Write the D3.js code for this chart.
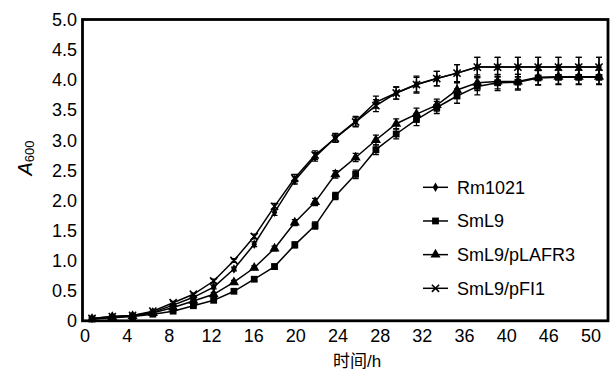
<!DOCTYPE html>
<html>
<head>
<meta charset="utf-8">
<script src="https://cdn.jsdelivr.net/npm/d3@7"></script>
<style>
  body { margin: 0; background: #fff; }
  text { font-family: "Liberation Sans", Arial, "Noto Sans CJK SC", sans-serif; fill: #000; }
</style>
</head>
<body>
<script>
// sampling times (h)
var times = [0, 2, 4, 6, 8, 10, 12, 14, 16, 18, 20, 22, 24, 26, 28, 30, 32, 34, 36, 38, 40, 42, 44, 46, 48, 50];

// A600 values
var rm1021 = [0.04, 0.07, 0.09, 0.14, 0.26, 0.39, 0.56, 0.86, 1.27, 1.80, 2.33, 2.72, 3.04, 3.31, 3.63, 3.78, 3.92, 4.02, 4.11, 4.21, 4.21, 4.21, 4.21, 4.21, 4.21, 4.21];
var sml9 = [0.03, 0.05, 0.07, 0.11, 0.16, 0.25, 0.34, 0.49, 0.69, 0.90, 1.26, 1.58, 2.07, 2.43, 2.84, 3.10, 3.34, 3.54, 3.73, 3.89, 3.95, 3.96, 4.03, 4.04, 4.04, 4.04];
var pLAFR3 = [0.03, 0.06, 0.08, 0.13, 0.22, 0.33, 0.44, 0.64, 0.88, 1.20, 1.63, 1.97, 2.43, 2.71, 3.00, 3.27, 3.43, 3.58, 3.83, 3.95, 3.97, 3.97, 4.04, 4.05, 4.05, 4.05];
var pFI1 = [0.04, 0.07, 0.09, 0.16, 0.30, 0.44, 0.66, 1.00, 1.40, 1.90, 2.37, 2.75, 3.03, 3.30, 3.57, 3.78, 3.92, 4.02, 4.11, 4.21, 4.21, 4.21, 4.21, 4.21, 4.21, 4.21];

// error bar half lengths
var rm1021Err = [0.01, 0.01, 0.01, 0.02, 0.02, 0.02, 0.03, 0.03, 0.04, 0.05, 0.06, 0.07, 0.07, 0.08, 0.10, 0.10, 0.12, 0.12, 0.14, 0.16, 0.16, 0.16, 0.16, 0.16, 0.16, 0.16];
var sml9Err = [0.01, 0.01, 0.01, 0.01, 0.02, 0.02, 0.02, 0.03, 0.03, 0.04, 0.05, 0.06, 0.06, 0.07, 0.08, 0.08, 0.10, 0.10, 0.12, 0.14, 0.13, 0.13, 0.12, 0.12, 0.12, 0.12];
var pLAFR3Err = [0.01, 0.01, 0.01, 0.01, 0.02, 0.02, 0.03, 0.03, 0.03, 0.04, 0.05, 0.06, 0.06, 0.07, 0.08, 0.08, 0.10, 0.10, 0.12, 0.13, 0.12, 0.12, 0.12, 0.12, 0.12, 0.12];
var pFI1Err = [0.01, 0.01, 0.01, 0.02, 0.02, 0.02, 0.03, 0.03, 0.04, 0.05, 0.06, 0.07, 0.07, 0.08, 0.10, 0.10, 0.14, 0.12, 0.14, 0.16, 0.16, 0.16, 0.16, 0.16, 0.16, 0.16];

var seriesNames = ["Rm1021", "SmL9", "SmL9/pLAFR3", "SmL9/pFI1"];
var seriesValues = [rm1021, sml9, pLAFR3, pFI1];
var seriesErrors = [rm1021Err, sml9Err, pLAFR3Err, pFI1Err];
var seriesMarks = ["diamond", "square", "triangle", "cross"];

// axis labels
var xTickLabels = ["0", "4", "8", "12", "16", "20", "24", "28", "32", "36", "40", "46", "50"];
var yTicks = [0, 0.5, 1.0, 1.5, 2.0, 2.5, 3.0, 3.5, 4.0, 4.5, 5.0];

var width = 612, height = 372;
var svg = d3.select("body").append("svg")
    .attr("width", width)
    .attr("height", height);

/* scales */
var x = d3.scaleLinear().domain([0, 50]).range([92, 599]);
var xLab = d3.scalePoint().domain(xTickLabels).range([85, 591]);
var y = d3.scaleLinear().domain([0, 5]).range([320.8, 19.5]);

/* frame */
svg.append("rect")
    .attr("x", 82.5)
    .attr("y", 19.5)
    .attr("width", 608 - 82.5)
    .attr("height", 320.8 - 19.5)
    .attr("fill", "none")
    .attr("stroke", "#000")
    .attr("stroke-width", 2.8);

/* y tick labels */
svg.selectAll(".ylab").data(yTicks).enter().append("text")
    .attr("class", "ylab")
    .attr("x", 77)
    .attr("y", function(d) { return y(d) + 6.5; })
    .attr("text-anchor", "end")
    .attr("font-size", 18)
    .text(function(d) { return d === 0 ? "0" : d3.format(".1f")(d); });

/* x tick labels */
svg.selectAll(".xlab").data(xTickLabels).enter().append("text")
    .attr("class", "xlab")
    .attr("x", function(d) { return xLab(d); })
    .attr("y", 342)
    .attr("text-anchor", "middle")
    .attr("font-size", 18)
    .text(function(d) { return d; });

/* axis titles */
svg.append("text")
    .attr("x", 357)
    .attr("y", 367)
    .attr("text-anchor", "middle")
    .attr("font-size", 17)
    .text("时间/h");

var yt = svg.append("text")
    .attr("transform", "translate(32,158) rotate(-90)")
    .attr("text-anchor", "middle")
    .attr("font-size", 20);
yt.append("tspan").attr("font-style", "italic").text("A");
yt.append("tspan").attr("font-size", 13).attr("dy", 2).text("600");

/* marker drawing */
function drawMark(g, type, cx, cy) {
    if (type === "cross") {
        var r = 3.6;
        g.append("path")
            .attr("d", "M" + (cx - r) + "," + (cy - r) + "L" + (cx + r) + "," + (cy + r) +
                       "M" + (cx - r) + "," + (cy + r) + "L" + (cx + r) + "," + (cy - r))
            .attr("stroke", "#000")
            .attr("stroke-width", 1.6)
            .attr("fill", "none");
        return;
    }
    var sym = d3.symbolSquare, size = 46;
    if (type === "diamond") { sym = d3.symbolDiamond; size = 26; }
    if (type === "triangle") { sym = d3.symbolTriangle; size = 44; }
    g.append("path")
        .attr("transform", "translate(" + cx + "," + cy + ")")
        .attr("d", d3.symbol().type(sym).size(size)())
        .attr("fill", "#000");
}

var line = d3.line()
    .x(function(d, i) { return x(times[i]); })
    .y(function(d) { return y(d); });

seriesValues.forEach(function(vals, s) {
    var g = svg.append("g").attr("class", "series");
    g.append("path")
        .datum(vals)
        .attr("d", line)
        .attr("fill", "none")
        .attr("stroke", "#000")
        .attr("stroke-width", 1.5);

    var errs = seriesErrors[s];
    vals.forEach(function(v, i) {
        var cx = x(times[i]);
        var e = errs[i];
        var y1 = y(v + e), y2 = y(v - e);
        g.append("path")
            .attr("d", "M" + cx + "," + y1 + "V" + y2 +
                       "M" + (cx - 3) + "," + y1 + "H" + (cx + 3) +
                       "M" + (cx - 3) + "," + y2 + "H" + (cx + 3))
            .attr("stroke", "#000")
            .attr("stroke-width", 1.3)
            .attr("fill", "none");
        drawMark(g, seriesMarks[s], cx, y(v));
    });
});

/* legend */
var legY = d3.scalePoint().domain(seriesNames).range([187.3, 288.3]);
seriesNames.forEach(function(name, s) {
    var ly = legY(name);
    var lg = svg.append("g").attr("class", "legend");
    lg.append("line")
        .attr("x1", 423).attr("x2", 448)
        .attr("y1", ly).attr("y2", ly)
        .attr("stroke", "#000")
        .attr("stroke-width", 1.5);
    drawMark(lg, seriesMarks[s], 435.5, ly);
    lg.append("text")
        .attr("x", 457)
        .attr("y", ly + 6.5)
        .attr("font-size", 18)
        .text(name);
});
</script>
</body>
</html>
